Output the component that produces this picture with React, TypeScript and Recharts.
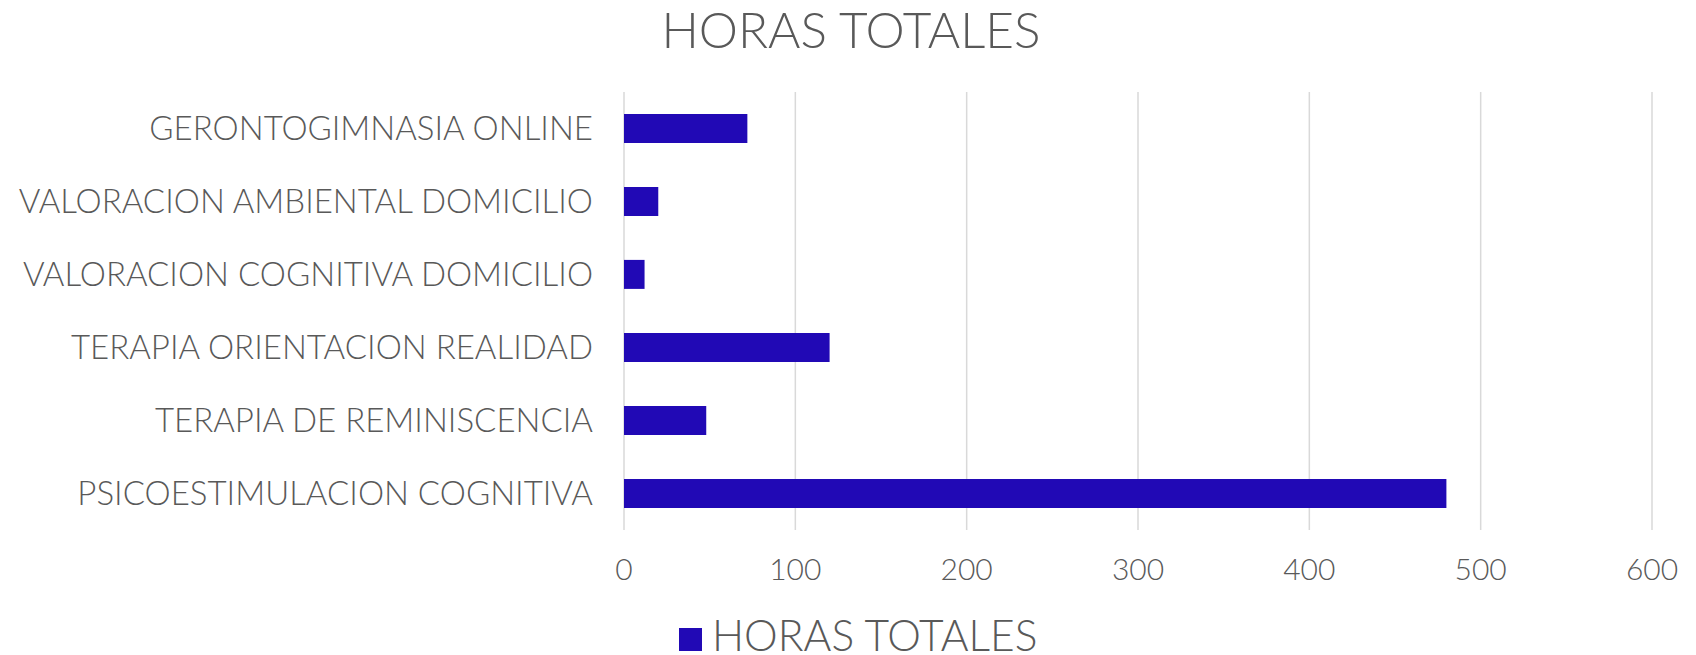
import React from "react";
import { BarChart, Bar, XAxis, YAxis, CartesianGrid, Legend } from "recharts";

const categories = [
  "GERONTOGIMNASIA ONLINE",
  "VALORACION AMBIENTAL DOMICILIO",
  "VALORACION COGNITIVA DOMICILIO",
  "TERAPIA ORIENTACION REALIDAD",
  "TERAPIA DE REMINISCENCIA",
  "PSICOESTIMULACION COGNITIVA",
];
const horasTotales = [72, 20, 12, 120, 48, 480];
const xTicks = [0, 100, 200, 300, 400, 500, 600];
const seriesName = "HORAS TOTALES";
const title = "HORAS TOTALES";

const data = categories.map((name, i) => ({ name, value: horasTotales[i] }));

const FONT = "Lato, 'DejaVu Sans', sans-serif";
const WEIGHT = 300;
const TEXT = "#595959";
const BAR = "#2109B5";

const LegendContent = () => (
  <div style={{ position: "relative", width: 1696, height: 65, fontFamily: FONT }}>
    <div
      style={{
        position: "absolute",
        left: 679,
        top: 38,
        width: 23,
        height: 23,
        background: BAR,
      }}
    />
    <span
      style={{
        position: "absolute",
        left: 712,
        top: 27,
        fontSize: 42.5,
        fontWeight: WEIGHT,
        lineHeight: "36px",
        color: TEXT,
        whiteSpace: "nowrap",
      }}
    >
      {seriesName}
    </span>
  </div>
);

export default function App() {
  return (
    <div style={{ position: "absolute", left: 0, top: 0, width: 1696, height: 655, background: "#fff" }}>
      <div
        style={{
          position: "absolute",
          left: 0,
          top: 5,
          width: 1702,
          textAlign: "center",
          fontFamily: FONT,
          fontWeight: WEIGHT,
          fontSize: 49.5,
          lineHeight: "49px",
          color: TEXT,
          whiteSpace: "nowrap",
        }}
      >
        {title}
      </div>
      <BarChart
        width={1696}
        height={655}
        data={data}
        layout="vertical"
        margin={{ top: 92, right: 44, left: 0, bottom: 0 }}
        barCategoryGap="30%"
      >
        <CartesianGrid horizontal={false} stroke="#d9d9d9" strokeWidth={1.5} />
        <XAxis
          type="number"
          domain={[0, 600]}
          ticks={xTicks}
          axisLine={false}
          tickLine={false}
          height={60}
          tickMargin={23}
          tick={{ fontSize: 30, fill: TEXT, fontFamily: FONT, fontWeight: WEIGHT }}
        />
        <YAxis
          type="category"
          dataKey="name"
          width={624}
          axisLine={false}
          tickLine={false}
          tickMargin={25}
          interval={0}
          tick={{ fontSize: 33, fill: TEXT, fontFamily: FONT, fontWeight: WEIGHT }}
        />
        <Legend verticalAlign="bottom" height={65} content={<LegendContent />} />
        <Bar dataKey="value" name={seriesName} fill={BAR} isAnimationActive={false} />
      </BarChart>
    </div>
  );
}
